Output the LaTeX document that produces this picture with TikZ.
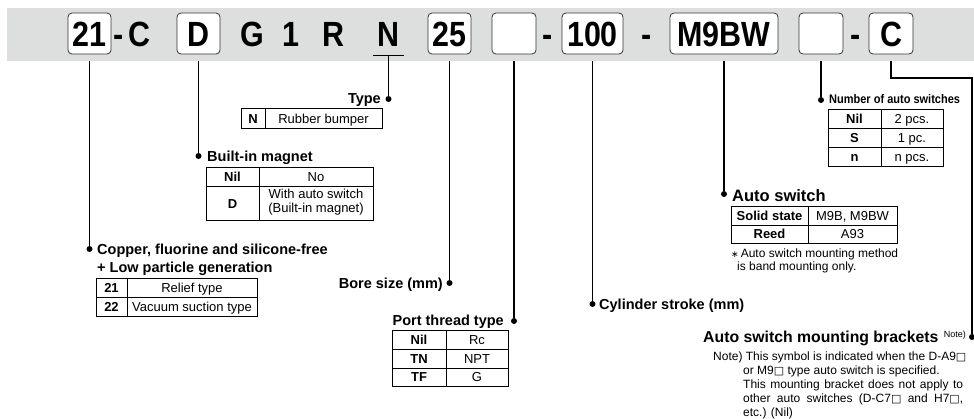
\documentclass[tikz,border=0pt]{standalone}
\usepackage{fontspec}
\setmainfont{Liberation Sans}
\newfontfamily\symf{DejaVu Sans}
\usepackage{graphicx}
\definecolor{bandgray}{RGB}{221,222,222}
\newcommand\cdtxt[1]{\scalebox{0.87}[1]{#1}}
\newcommand\cdf{\fontsize{35}{35}\selectfont\bfseries}
\newcommand\wsq{{\symf\fontsize{11}{11}\selectfont □}}
\begin{document}
\begin{tikzpicture}[x=1pt,y=-1pt,
  codebox/.style={draw=black!80, line width=0.8pt, rounded corners=4pt, fill=white, minimum height=41pt, inner sep=0pt, text height=25pt, text depth=0pt, font=\cdf},
  codech/.style={anchor=base, inner sep=0pt, font=\cdf},
  conn/.style={line width=1.2pt},
  dot/.style={circle, fill=black, inner sep=0pt, minimum size=6pt},
  lbl/.style={font=\fontsize{14.5}{16}\selectfont\bfseries, inner sep=0pt},
  tab/.style={line width=0.8pt},
  tk/.style={font=\fontsize{13}{15}\selectfont\bfseries, inner sep=0pt, anchor=base},
  tv/.style={font=\fontsize{13}{15}\selectfont, inner sep=0pt, anchor=base},
  note/.style={font=\fontsize{12}{14}\selectfont, inner sep=0pt, anchor=base west}]
\useasboundingbox (0,0) rectangle (974,418);
% band
\node[fill=bandgray, minimum width=967pt, minimum height=53pt, anchor=north west, inner sep=0pt] (band) at (7,8) {};
% code row
\node[codebox, minimum width=43pt] (b21) at (89.5,33.5) {\cdtxt{21}};
\node[codech] (h1) at (119,46) {\cdtxt{-}};
\node[codech] (cC) at (139,46) {\cdtxt{C}};
\node[codebox, minimum width=43pt] (bD) at (198.5,33.5) {\cdtxt{D}};
\node[codech] (cG) at (252,46) {\cdtxt{G}};
\node[codech] (c1) at (291,46) {\cdtxt{1}};
\node[codech] (cR) at (333,46) {\cdtxt{R}};
\node[codech] (cN) at (388.5,46) {\cdtxt{N}};
\coordinate (uN1) at (373,55.5);
\coordinate (uN2) at (404,55.5);
\draw[line width=1pt] (uN1) -- (uN2);
\node[codebox, minimum width=43pt] (b25) at (449.5,33.5) {\cdtxt{25}};
\node[codebox, minimum width=44pt] (bE1) at (514,33.5) {};
\node[codech] (h2) at (548,46) {\cdtxt{-}};
\node[codebox, minimum width=61pt] (b100) at (592.5,33.5) {\cdtxt{100}};
\node[codech] (h3) at (647,46) {\cdtxt{-}};
\node[codebox, minimum width=108pt] (bM) at (724,33.5) {\cdtxt{M9BW}};
\node[codebox, minimum width=44pt] (bE2) at (821,33.5) {};
\node[codech] (h4) at (856,46) {\cdtxt{-}};
\node[codebox, minimum width=44pt] (bC) at (891,33.5) {\cdtxt{C}};

% dots
\node[dot] (d21) at (b21.south |- 0,249) {};
\node[dot] (dD) at (bD.south |- 0,156) {};
\node[dot] (dN) at (388.5,99) {};
\node[dot] (d25) at (b25.south |- 0,283) {};
\node[dot] (dE1) at (bE1.south |- 0,321) {};
\node[dot] (d100) at (b100.south |- 0,304) {};
\node[dot] (dM) at (bM.south |- 0,194) {};
\node[dot] (dE2) at (bE2.south |- 0,100) {};
\node[dot] (dC) at (972,337) {};

% connectors
\draw[conn] (b21.south |- band.south) -- (d21);
\draw[conn] (bD.south |- band.south) -- (dD);
\draw[conn] (dN |- uN1) -- (dN);
\draw[conn] (b25.south |- band.south) -- (d25);
\draw[conn] (bE1.south |- band.south) -- (dE1);
\draw[conn] (b100.south |- band.south) -- (d100);
\draw[conn] (bM.south |- band.south) -- (dM);
\draw[conn] (bE2.south |- band.south) -- (dE2);
\draw[conn] (bC.south |- band.south) -- (bC.south |- 0,78) -| (dC);

% labels
\node[lbl, anchor=base west] (l21a) at (97,254) {Copper, fluorine and silicone-free};
\node[lbl, anchor=base west] (l21b) at (97,272) {+ Low particle generation};
\node[lbl, anchor=base west] (lD) at (207,161) {Built-in magnet};
\node[lbl, anchor=base east] (lN) at (381,103) {Type};
\node[lbl, anchor=base east] (l25) at (443,288) {Bore size (mm)};
\node[lbl, anchor=base east] (lE1) at (504,325) {Port thread type};
\node[lbl, anchor=base west] (l100) at (599,309) {Cylinder stroke (mm)};
\node[inner sep=0pt, anchor=base west, font=\fontsize{16.5}{18}\selectfont\bfseries] (lM) at (732,201) {Auto switch};
\node[inner sep=0pt, anchor=base west, font=\fontsize{12.5}{14}\selectfont\bfseries] (lE2) at (829,103) {\scalebox{0.88}[1]{Number of auto switches}};
\node[inner sep=0pt, anchor=base west, font=\fontsize{15.8}{18}\selectfont\bfseries] (lC) at (703,342) {Auto switch mounting brackets};
\node[inner sep=0pt, anchor=base east, font=\fontsize{9}{10}\selectfont] (lCn) at (966,337) {Note)};

% table Type
\draw[tab] (241,108) rectangle (382,128) (265,108) -- (265,128);
\node[tk] (tN1) at (253,123) {N};
\node[tv] (tN2) at (323.5,123) {Rubber bumper};

% table magnet
\draw[tab] (206,167) rectangle (373,220) (206,186) -- (373,186) (259,167) -- (259,220);
\node[tk] (tD1) at (232.5,181) {Nil};
\node[tv] (tD2) at (316,181) {No};
\node[tk] (tD3) at (232.5,208) {D};
\node[tv] (tD4) at (316,198.5) {With auto switch};
\node[tv] (tD5) at (316,212.5) {(Built-in magnet)};

% table copper
\draw[tab] (96,278) rectangle (257,316) (96,297) -- (257,297) (127,278) -- (127,316);
\node[tk] (tc1) at (111.5,292) {21};
\node[tv] (tc2) at (192,292) {Relief type};
\node[tk] (tc3) at (111.5,311) {22};
\node[tv] (tc4) at (192,311) {Vacuum suction type};

% table port
\draw[tab] (392,330) rectangle (508,386) (392,349) -- (508,349) (392,368) -- (508,368) (446,330) -- (446,386);
\node[tk] (tp1) at (419,344) {Nil};
\node[tv] (tp2) at (477,344) {Rc};
\node[tk] (tp3) at (419,363) {TN};
\node[tv] (tp4) at (477,363) {NPT};
\node[tk] (tp5) at (419,381.5) {TF};
\node[tv] (tp6) at (477,381.5) {G};

% table auto switch
\draw[tab] (731,206) rectangle (897,243) (731,225) -- (897,225) (808,206) -- (808,243);
\node[tk] (ta1) at (769.5,220) {Solid state};
\node[tv] (ta2) at (852.5,220) {M9B, M9BW};
\node[tk] (ta3) at (769.5,238.5) {Reed};
\node[tv] (ta4) at (852.5,238.5) {A93};
\node[note] (na1) at (731,257) {{\symf\fontsize{9}{9}\selectfont ∗}\hspace{2pt}Auto switch mounting method};
\node[note] (na2) at (737,270) {is band mounting only.};

% table number
\draw[tab] (828,109) rectangle (943,166) (828,128) -- (943,128) (828,147) -- (943,147) (881,109) -- (881,166);
\node[tk] (tn1) at (854.5,123) {Nil};
\node[tv] (tn2) at (912,123) {2 pcs.};
\node[tk] (tn3) at (854.5,142) {S};
\node[tv] (tn4) at (912,142) {1 pc.};
\node[tk] (tn5) at (854.5,161) {n};
\node[tv] (tn6) at (912,161) {n pcs.};

% note
\node[note] (nt1) at (713,360) {Note) This symbol is indicated when the D-A9\wsq};
\node[note] (nt2) at (743,374) {or M9\wsq{} type auto switch is specified.};
\node[note] (nt3) at (743,388) {\makebox[220pt][s]{This mounting bracket does not apply to}};
\node[note] (nt4) at (743,402) {\makebox[220pt][s]{other auto switches (D-C7\wsq{} and H7\wsq,}};
\node[note] (nt5) at (743,416) {etc.) (Nil)};
\end{tikzpicture}
\end{document}
